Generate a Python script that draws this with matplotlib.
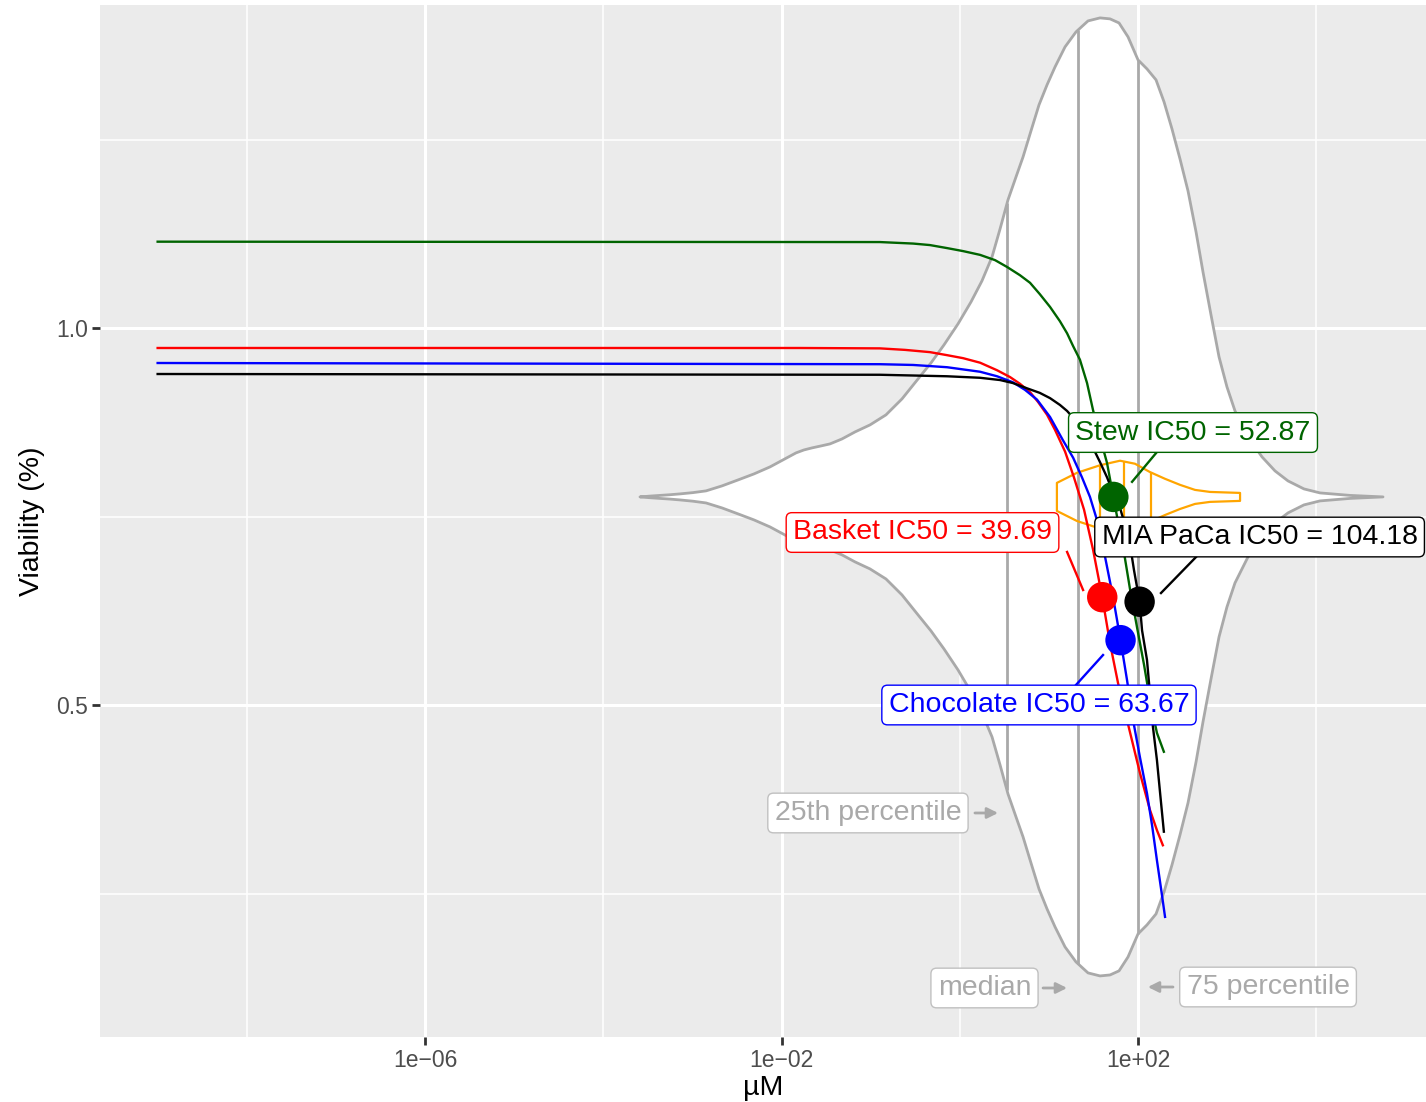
import numpy as np
import matplotlib
matplotlib.use("Agg")
import matplotlib.pyplot as plt
from matplotlib.ticker import FixedLocator, NullFormatter

plt.rcParams["font.family"] = ["Liberation Sans", "DejaVu Sans"]

# dose-response curves (dose in uM, viability)
stew_dose = [1e-9, 0.127, 0.30, 0.463, 0.72, 1.09, 1.69, 2.49, 3.39, 4.74, 6.14, 7.9, 10.3, 13.3, 16.0,
             18.7, 22.3, 26.8, 31.3, 37.5, 44.9, 52.87, 59.7, 67.9, 81.5, 97.5, 117, 136, 163, 195]
stew_via = [1.1145, 1.114, 1.112, 1.110, 1.106, 1.102, 1.097, 1.090, 1.081, 1.070, 1.060, 1.045, 1.028, 1.009, 0.993,
            0.976, 0.958, 0.927, 0.891, 0.855, 0.821, 0.776, 0.743, 0.710, 0.653, 0.603, 0.553, 0.507, 0.463, 0.438]

basket_dose = [1e-9, 0.00122, 0.0161, 0.127, 0.243, 0.463, 0.719, 1.09, 1.69, 2.62, 3.66, 4.74, 6.14, 7.55,
               9.53, 11.7, 15.2, 19.1, 24.8, 31.3, 39.69, 48.5, 59.7, 75.3, 105, 136, 163, 190]
basket_via = [0.9735, 0.9735, 0.9735, 0.973, 0.971, 0.968, 0.964, 0.960, 0.954, 0.944, 0.935, 0.926, 0.915, 0.902,
              0.885, 0.865, 0.836, 0.802, 0.759, 0.706, 0.643, 0.582, 0.529, 0.480, 0.410, 0.361, 0.334, 0.314]

choc_dose = [1e-9, 0.127, 0.30, 0.72, 1.69, 2.62, 3.95, 5.39, 7.36, 10.3, 14.4, 18.7, 23.5, 28.9, 34.7,
             40.5, 52.5, 63.67, 75.3, 88, 105, 126, 144, 163, 181, 201]
choc_via = [0.9536, 0.952, 0.951, 0.948, 0.942, 0.936, 0.928, 0.918, 0.905, 0.882, 0.851, 0.828, 0.802, 0.776, 0.745,
            0.710, 0.643, 0.586, 0.533, 0.480, 0.431, 0.383, 0.340, 0.294, 0.257, 0.219]

mia_dose = [1e-9, 0.127, 0.72, 1.69, 2.83, 3.95, 5.69, 7.9, 10.3, 13.3, 16.0, 18.7, 22.3, 26.8, 31.3, 37.5,
            44.9, 52.5, 63.7, 71.4, 81.5, 90.1, 104.18, 111, 126, 136, 147, 163, 177, 195]
mia_via = [0.939, 0.938, 0.936, 0.934, 0.931, 0.927, 0.920, 0.914, 0.907, 0.898, 0.890, 0.881, 0.869, 0.854, 0.841,
           0.822, 0.802, 0.782, 0.759, 0.739, 0.712, 0.679, 0.637, 0.599, 0.560, 0.516, 0.471, 0.427, 0.383, 0.332]

# IC50 points
ic50_names = ["Stew", "Basket", "MIA PaCa", "Chocolate"]
ic50_dose = [52.87, 39.69, 104.18, 63.67]
ic50_via = [0.776, 0.643, 0.637, 0.586]
ic50_colors = ["#006400", "#FF0000", "#000000", "#0000FF"]

# reference violin of all IC50s: log10(dose) and half width (viability units)
violin_logdose = [-3.588, -3.475, -3.363, -3.251, -3.139, -2.993, -2.847, -2.668, -2.488, -2.309, -2.129,
                  -1.983, -1.837, -1.748, -1.658, -1.557, -1.456, -1.321, -1.175, -1.007, -0.828, -0.648,
                  -0.468, -0.323, -0.177, -0.020, 0.126, 0.249, 0.362, 0.452, 0.541, 0.631, 0.710, 0.799,
                  0.889, 0.979, 1.069, 1.181, 1.304, 1.439, 1.574, 1.686, 1.787, 1.888, 2.000, 2.101, 2.202,
                  2.292, 2.381, 2.471, 2.561, 2.651, 2.729, 2.819, 2.909, 2.998, 3.088, 3.234, 3.391, 3.537,
                  3.683, 3.862, 4.042, 4.379, 4.749]
violin_hw = [0.0, 0.0011, 0.002, 0.0029, 0.004, 0.0057, 0.008, 0.0146, 0.0225, 0.0305, 0.0398,
             0.0491, 0.0584, 0.0623, 0.065, 0.0676, 0.0703, 0.0769, 0.0862, 0.0955, 0.1088, 0.130,
             0.1565, 0.1777, 0.2016, 0.2294, 0.2586, 0.2865, 0.3183, 0.3554, 0.3939, 0.4244, 0.4509, 0.4854,
             0.5199, 0.5464, 0.5703, 0.5968, 0.6167, 0.6313, 0.6353, 0.6340, 0.6286, 0.6101, 0.5796, 0.5676, 0.5531,
             0.5239, 0.4881, 0.4483, 0.4058, 0.3515, 0.2984, 0.2414, 0.1857, 0.1459, 0.1141, 0.0796, 0.0531, 0.0345,
             0.0212, 0.0106, 0.0053, 0.002, 0.0]
violin_quant = [3.39, 21.2, 100]
violin_center = 0.776

# small orange violin
orange_dose = [12.3, 20.7, 37.5, 62.8, 92.5, 136, 201, 296, 436, 643, 1396]
orange_hw = [0.0186, 0.032, 0.042, 0.048, 0.044, 0.033, 0.024, 0.016, 0.0093, 0.0066, 0.0053]
orange_quant = [37.5, 69.7, 140]

GRAY = "#A9A9A9"

fig = plt.figure(figsize=(14.26, 11.02), dpi=100)
ax = fig.add_axes([100 / 1426, 65 / 1102, 1326 / 1426, 1032 / 1102])
ax.set_facecolor("#EBEBEB")
ax.set_xscale("log")
ax.set_xlim(2.256e-10, 1.703e5)
ax.set_ylim(0.0597, 1.4284)


def draw_violin(dose, hw, quant, center, color, fill, lw, z):
    dose = np.asarray(dose)
    hw = np.asarray(hw)
    xs = np.concatenate([dose, dose[::-1]])
    ys = np.concatenate([center + hw, (center - hw)[::-1]])
    ax.fill(xs, ys, facecolor=fill, edgecolor=color, lw=lw, zorder=z, closed=True,
            joinstyle="round")
    ld = np.log10(dose)
    for q in quant:
        h = np.interp(np.log10(q), ld, hw)
        ax.plot([q, q], [center - h, center + h], color=color, lw=lw, zorder=z + 0.1,
                solid_capstyle="butt")


draw_violin(10 ** np.asarray(violin_logdose), violin_hw, violin_quant, violin_center,
            GRAY, "white", 2.0, 2)
draw_violin(orange_dose, orange_hw, orange_quant, violin_center, "#FFA500", "none", 1.6, 2.5)

curves = [(stew_dose, stew_via, "#006400"), (basket_dose, basket_via, "#FF0000"),
          (choc_dose, choc_via, "#0000FF"), (mia_dose, mia_via, "#000000")]
for d, v, c in curves:
    ax.plot(d, v, color=c, lw=1.7, zorder=3, solid_joinstyle="round")

ax.scatter(ic50_dose, ic50_via, s=480, c=ic50_colors, zorder=4, linewidths=0)

# repelled labels: (text centre dose, viability) and connector segments
label_pos = [(414, 0.8614), (0.382, 0.7288), (2312, 0.7228), (7.74, 0.500)]
seg = [((85.7, 0.796), (167, 0.837)), ((24.2, 0.6525), (16.0, 0.703)),
       ((181, 0.6485), (448, 0.6963)), ((40.5, 0.5663), (20.1, 0.5265))]
for name, d, c, pos, s in zip(ic50_names, ic50_dose, ic50_colors, label_pos, seg):
    ax.plot([s[0][0], s[1][0]], [s[0][1], s[1][1]], color=c, lw=1.7, zorder=4.5)
    ax.text(pos[0], pos[1], f"{name} IC50 = {d:.2f}", color=c, fontsize=20.5,
            ha="center", va="center", zorder=5, clip_on=False,
            bbox=dict(boxstyle="round,pad=0.24,rounding_size=0.2", fc="white", ec=c, lw=1.0))

# percentile annotations
pct_text = ["25th percentile", "median", "75 percentile"]
pct_pos = [(0.0933, 0.3568), (1.895, 0.1247), (2877, 0.126)]
pct_arrow = [((1.48, 0.3568), (2.69, 0.3568)), ((8.6, 0.1247), (16.0, 0.1247)),
             ((247, 0.126), (129, 0.126))]
for t, p, a in zip(pct_text, pct_pos, pct_arrow):
    ax.text(p[0], p[1], t, color=GRAY, fontsize=20.5, ha="center", va="center", zorder=5,
            bbox=dict(boxstyle="round,pad=0.24,rounding_size=0.2", fc="white", ec="#C0C0C0", lw=1.0))
    ax.annotate("", xy=a[1], xytext=a[0], zorder=5,
                arrowprops=dict(arrowstyle="-|>", color=GRAY, lw=2.0, mutation_scale=16,
                                shrinkA=0, shrinkB=0))

# axes styling like ggplot grey theme
ax.xaxis.set_major_locator(FixedLocator([1e-6, 1e-2, 1e2]))
ax.xaxis.set_minor_locator(FixedLocator([1e-8, 1e-4, 1, 1e4]))
ax.xaxis.set_minor_formatter(NullFormatter())
ax.set_xticklabels(["1e\u221206", "1e\u221202", "1e+02"])
ax.yaxis.set_major_locator(FixedLocator([0.5, 1.0]))
ax.yaxis.set_minor_locator(FixedLocator([0.25, 0.75, 1.25]))
ax.set_yticklabels(["0.5", "1.0"])
ax.grid(which="major", color="white", lw=2.2)
ax.grid(which="minor", color="white", lw=1.1)
ax.set_axisbelow(True)
for sp in ax.spines.values():
    sp.set_visible(False)
ax.tick_params(which="major", length=5.5, width=2.0, color="#333333", labelcolor="#4D4D4D",
               labelsize=16.5, pad=3)
ax.tick_params(which="minor", length=0)
ax.set_xlabel("\u00b5M", fontsize=20.5, labelpad=2)
ax.set_ylabel("Viability (%)", fontsize=20.5, labelpad=8)

fig.savefig("out.png", dpi=100)
